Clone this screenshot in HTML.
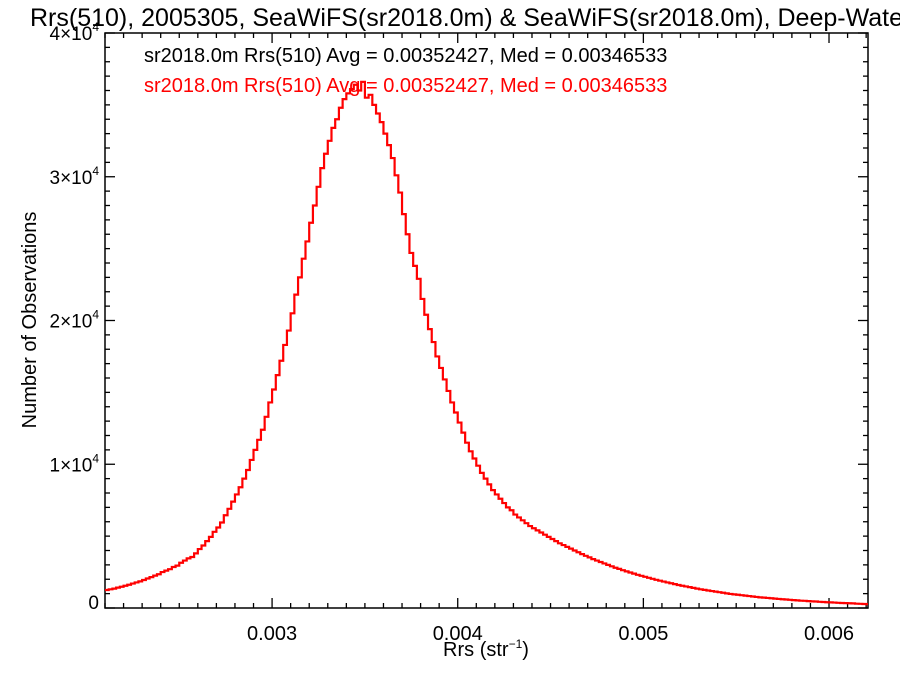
<!DOCTYPE html>
<html><head><meta charset="utf-8"><style>
html,body{margin:0;padding:0;background:#fff;overflow:hidden;}
svg{display:block;font-family:"Liberation Sans",Arial,sans-serif;}
</style></head><body>
<svg id="chart" width="900" height="675" xmlns="http://www.w3.org/2000/svg">
<text x="30" y="26" font-size="25" fill="#000">Rrs(510), 2005305, SeaWiFS(sr2018.0m) &amp; SeaWiFS(sr2018.0m), Deep-Water</text>
<text x="144" y="62" font-size="20" fill="#000">sr2018.0m Rrs(510) Avg = 0.00352427, Med = 0.00346533</text>
<text x="144" y="92" font-size="20" fill="#f00">sr2018.0m Rrs(510) Avg = 0.00352427, Med = 0.00346533</text>
<text transform="translate(36,320) rotate(-90)" text-anchor="middle" font-size="20">Number of Observations</text>
<text x="486" y="656" text-anchor="middle" font-size="20">Rrs (str<tspan font-size="12" dy="-8">−1</tspan><tspan dy="8">)</tspan></text>
<g id="axes"></g>
<g id="series"></g>
</svg>
<script>
const binStart = 0.0021;
const binWidth = 0.00002;
const counts = [
1250,1300,1350,1420,1480,
1550,1620,1700,1780,1850,
1950,2050,2150,2250,2350,
2500,2600,2700,2850,2950,
3150,3300,3450,3550,3800,
4100,4350,4650,4950,5300,
5600,5950,6450,6900,7400,
7900,8400,9000,9600,10300,
11000,11700,12400,13300,14300,
15200,16200,17200,18300,19300,
20500,21800,23000,24300,25500,
26800,28000,29300,30600,31600,
32500,33400,34000,34800,35400,
35800,36100,36400,36000,36600,
35500,35700,35000,34400,33800,
33000,32200,31300,30100,28900,
27400,26000,24700,23800,22900,
21500,20400,19400,18500,17500,
16700,15900,15100,14300,13600,
12900,12200,11500,10900,10400,
9900,9400,9000,8600,8200,
7900,7600,7300,7000,6800,
6500,6300,6100,5900,5700,
5550,5400,5250,5100,4950,
4800,4650,4500,4380,4250,
4130,4000,3880,3750,3630,
3520,3400,3300,3200,3100,
3000,2900,2800,2720,2630,
2550,2470,2390,2310,2240,
2170,2100,2030,1960,1900,
1840,1780,1720,1660,1600,
1550,1500,1450,1400,1350,
1300,1260,1220,1180,1140,
1100,1060,1020,980,950,
920,890,860,830,800,
770,740,720,700,680,
650,630,610,590,570,
550,530,510,500,480,
460,450,430,420,400,
390,380,360,350,340,
330,320,300,290,280,
270];
const xTicks = [0.003,0.004,0.005,0.006];
const xTickLabels = ["0.003","0.004","0.005","0.006"];
const yTicks = [0,10000,20000,30000,40000];
const yTickLabels = ["0","1","2","3","4"];

const L=105,R=868,T=33,B=608;
const xMin=0.0021,xMax=0.00621,yMin=0,yMax=40000;
const X=v=>L+(v-xMin)/(xMax-xMin)*(R-L);
const Y=v=>B-(v-yMin)/(yMax-yMin)*(B-T);
const NS="http://www.w3.org/2000/svg";
const axes=document.getElementById('axes');
function mk(tag,attrs,parent){const e=document.createElementNS(NS,tag);for(const k in attrs)e.setAttribute(k,attrs[k]);parent.appendChild(e);return e;}

let d="";
counts.forEach((c,i)=>{
  const x0=X(binStart+i*binWidth), x1=Math.min(R,X(binStart+(i+1)*binWidth)), y=Y(c);
  d += (i===0?`M${x0},${y}`:`V${y}`)+`H${x1}`;
});
const path=mk('path',{d:d,fill:'none',stroke:'#f00','stroke-width':'2.2'},document.getElementById('series'));



const fr=mk('rect',{x:L,y:T,width:R-L,height:B-T,fill:'none',stroke:'#000','stroke-width':'1.5'},axes);



for(let k=0;k<=41;k++){
  const v=0.0021+k*0.0001; if(v>xMax+1e-9)break;
  const x=X(v); const major=Math.abs(v*1000-Math.round(v*1000))<1e-6; const len=major?10:5;
  const t1=mk('line',{x1:x,x2:x,y1:B,y2:B-len,stroke:'#000','stroke-width':'1.3'},axes);
  
  
  const t2=mk('line',{x1:x,x2:x,y1:T,y2:T+len,stroke:'#000','stroke-width':'1.3'},axes);
  
  
}
xTicks.forEach((v,i)=>{
  const t=mk('text',{x:X(v),y:B+32,'text-anchor':'middle','font-size':'20'},axes);
  t.textContent=xTickLabels[i];
  
  
});
for(let v=0;v<=40000;v+=1000){
  const y=Y(v); const major=v%10000===0; const len=major?10:5;
  const t1=mk('line',{x1:L,x2:L+len,y1:y,y2:y,stroke:'#000','stroke-width':'1.3'},axes);
  
  
  const t2=mk('line',{x1:R,x2:R-len,y1:y,y2:y,stroke:'#000','stroke-width':'1.3'},axes);
  
  
}
yTicks.forEach((v,i)=>{
  const t=mk('text',{x:99,y:Y(v)+(v===0?1:7),'text-anchor':'end','font-size':'19'},axes);
  if(v===0){t.textContent='0';}
  else{
    t.textContent=yTickLabels[i]+'×10';
    const s=mk('tspan',{'font-size':'12',dy:'-9'},t); s.textContent='4';
  }
  
  
});
</script>
</body></html>
